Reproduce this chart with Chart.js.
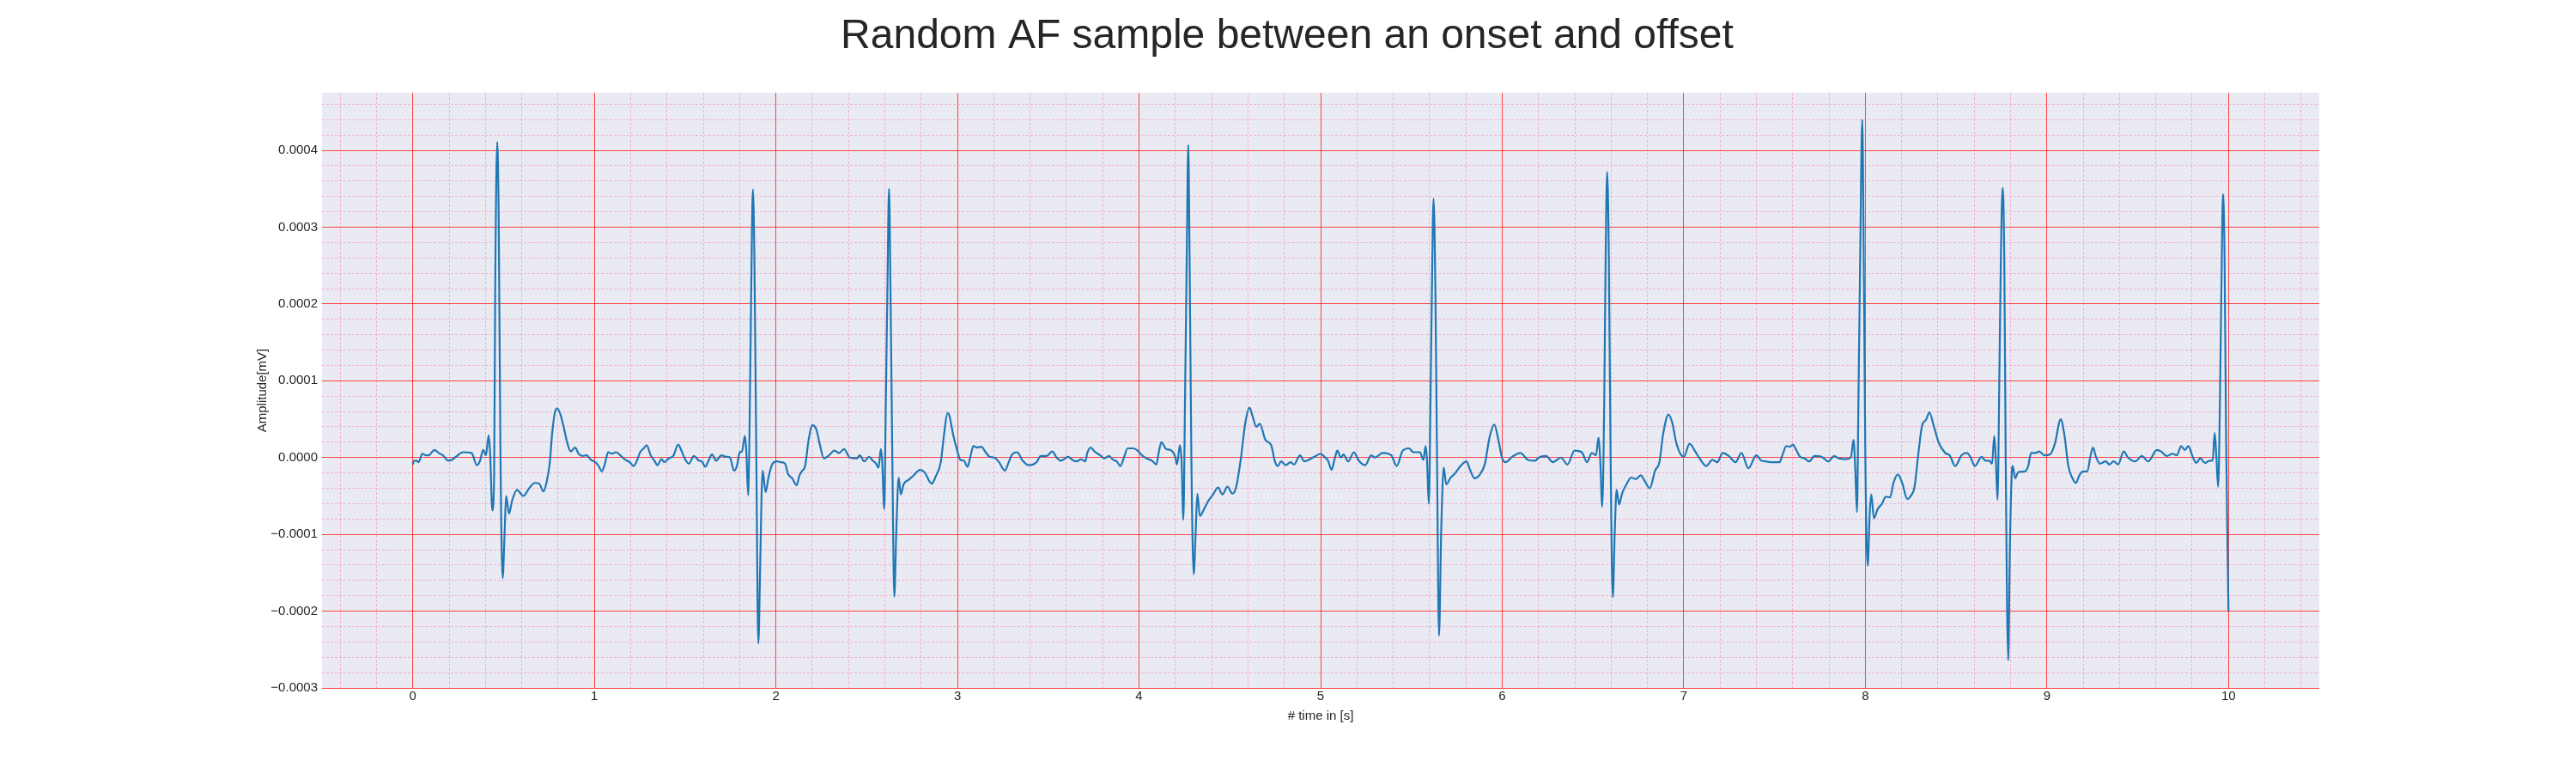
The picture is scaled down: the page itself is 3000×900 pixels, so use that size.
<!DOCTYPE html>
<html>
<head>
<meta charset="utf-8">
<title>Random AF sample between an onset and offset</title>
<script src="https://cdn.jsdelivr.net/npm/chart.js@4.4.1/dist/chart.umd.min.js"></script>
<style>
  html, body { margin: 0; padding: 0; background: #ffffff; }
  canvas { display: block; }
</style>
</head>
<body>
<canvas id="ecgChart" width="3000" height="900"></canvas>
<script>
// amplitudes below are in units of 1e-4 mV
const segATime = [0.000, 0.008, 0.020, 0.032, 0.052, 0.071, 0.088, 0.119, 0.142, 0.166, 0.195, 0.214, 0.237, 0.277, 0.324, 0.353, 0.369, 0.388, 0.403, 0.418, 0.426, 0.438, 0.448, 0.454, 0.465, 0.473, 0.483, 0.495, 0.506, 0.514, 0.530, 0.546, 0.574, 0.609, 0.641, 0.672, 0.696, 0.720, 0.736, 0.755, 0.767, 0.783, 0.796, 0.812, 0.831, 0.850, 0.870, 0.894, 0.913, 0.934, 0.957, 0.981, 1.005, 1.024, 1.041, 1.057, 1.076, 1.097, 1.119, 1.147, 1.171, 1.195];
const segAAmp = [-0.09, -0.04, -0.04, -0.06, 0.05, 0.03, 0.03, 0.10, 0.06, 0.03, -0.04, -0.03, 0.01, 0.07, 0.06, -0.10, -0.05, 0.10, 0.03, 0.29, 0.06, -0.69, -0.23, 2.19, 4.11, 3.16, 0.01, -1.57, -0.96, -0.50, -0.73, -0.57, -0.42, -0.50, -0.40, -0.33, -0.34, -0.44, -0.33, -0.06, 0.30, 0.59, 0.64, 0.57, 0.40, 0.20, 0.08, 0.13, 0.05, 0.02, 0.03, -0.03, -0.06, -0.11, -0.18, -0.09, 0.07, 0.05, 0.07, 0.02, -0.03, -0.06];

const segBTime = [1.215, 1.231, 1.252, 1.272, 1.288, 1.310, 1.331, 1.347, 1.370, 1.386, 1.410, 1.434, 1.462, 1.481, 1.502, 1.521, 1.548, 1.576, 1.592, 1.611, 1.627, 1.648, 1.671, 1.700, 1.726, 1.747, 1.769, 1.785, 1.801, 1.813, 1.829, 1.837, 1.847, 1.854, 1.864, 1.873, 1.881, 1.892, 1.903, 1.913, 1.921, 1.927, 1.943, 1.959, 1.979, 2.006, 2.027, 2.051, 2.066, 2.090, 2.114, 2.130, 2.146, 2.161, 2.180, 2.201, 2.222, 2.241, 2.264, 2.288, 2.323, 2.348, 2.375, 2.407, 2.446];
const segBAmp = [-0.11, -0.06, 0.07, 0.12, 0.16, 0.03, -0.04, -0.10, -0.02, -0.06, -0.01, 0.02, 0.17, 0.08, -0.03, -0.08, 0.02, -0.04, -0.05, -0.12, -0.05, 0.04, -0.04, 0.03, 0.01, 0.00, -0.17, -0.11, 0.07, 0.08, 0.28, 0.08, -0.49, 0.25, 2.19, 3.49, 2.68, 0.01, -2.42, -1.45, -0.48, -0.17, -0.45, -0.26, -0.09, -0.05, -0.06, -0.08, -0.21, -0.27, -0.36, -0.23, -0.17, -0.11, 0.23, 0.42, 0.37, 0.18, -0.01, 0.02, 0.09, 0.06, 0.11, 0.00, -0.01];

const segCTime = [2.462, 2.486, 2.513, 2.533, 2.549, 2.565, 2.578, 2.585, 2.597, 2.604, 2.614, 2.623, 2.631, 2.641, 2.652, 2.663, 2.676, 2.688, 2.703, 2.731, 2.755, 2.794, 2.818, 2.858, 2.881, 2.908, 2.926, 2.945, 2.956, 2.976, 3.000, 3.016, 3.035, 3.055, 3.071, 3.087, 3.108, 3.130, 3.155, 3.177, 3.203, 3.229, 3.261, 3.282, 3.301, 3.329, 3.356, 3.392, 3.435, 3.459, 3.491, 3.522, 3.546, 3.570, 3.609, 3.633, 3.657, 3.680, 3.704];
const segCAmp = [0.03, -0.05, 0.01, -0.04, -0.07, -0.13, 0.11, -0.04, -0.67, 0.49, 2.19, 3.50, 2.19, 0.01, -1.81, -0.96, -0.26, -0.48, -0.35, -0.29, -0.24, -0.16, -0.19, -0.34, -0.24, -0.06, 0.30, 0.58, 0.54, 0.30, 0.08, -0.03, -0.04, -0.12, 0.01, 0.15, 0.13, 0.14, 0.07, 0.01, 0.00, -0.06, -0.17, -0.06, 0.04, 0.07, -0.03, -0.10, -0.06, 0.02, 0.02, 0.08, 0.00, -0.04, 0.01, -0.03, -0.05, -0.02, -0.05];

const segDTime = [3.715, 3.734, 3.755, 3.786, 3.807, 3.834, 3.858, 3.877, 3.897, 3.918, 3.937, 3.968, 3.992, 4.016, 4.040, 4.071, 4.095, 4.108, 4.123, 4.150, 4.171, 4.198, 4.209, 4.225, 4.234, 4.244, 4.253, 4.263, 4.271, 4.278, 4.288, 4.301, 4.312, 4.321, 4.335, 4.356, 4.380, 4.408, 4.435, 4.459, 4.487, 4.514, 4.535, 4.562, 4.585, 4.609, 4.625, 4.646, 4.665, 4.696, 4.728, 4.747, 4.763, 4.783, 4.807, 4.835, 4.854, 4.886, 4.910, 4.949];
const segDAmp = [0.06, 0.13, 0.08, 0.03, -0.01, 0.02, -0.03, -0.05, -0.11, 0.01, 0.12, 0.12, 0.09, 0.03, -0.01, -0.04, -0.09, 0.06, 0.20, 0.11, 0.10, 0.02, -0.09, 0.16, -0.04, -0.81, 0.74, 2.68, 4.07, 2.68, 0.01, -1.52, -0.96, -0.47, -0.76, -0.68, -0.57, -0.48, -0.39, -0.48, -0.38, -0.47, -0.38, 0.01, 0.45, 0.65, 0.54, 0.40, 0.44, 0.23, 0.16, -0.04, -0.11, -0.05, -0.10, -0.06, -0.09, 0.03, -0.05, -0.01];

const segETime = [4.973, 5.000, 5.021, 5.041, 5.060, 5.076, 5.092, 5.111, 5.126, 5.152, 5.183, 5.210, 5.246, 5.278, 5.300, 5.341, 5.389, 5.419, 5.452, 5.487, 5.510, 5.547, 5.566, 5.578, 5.586, 5.596, 5.605, 5.613, 5.622, 5.632, 5.641, 5.652, 5.664, 5.678, 5.692, 5.716, 5.739, 5.771, 5.803, 5.823, 5.847, 5.874, 5.905, 5.929, 5.957, 5.979, 6.000, 6.019, 6.055, 6.100, 6.142, 6.182];
const segEAmp = [0.02, 0.05, 0.01, -0.04, -0.16, -0.03, 0.09, 0.00, 0.04, -0.05, 0.07, -0.04, -0.10, 0.03, 0.00, 0.06, 0.03, -0.11, 0.09, 0.12, 0.07, 0.07, -0.03, 0.15, -0.04, -0.60, 0.74, 2.19, 3.37, 2.19, 0.01, -2.32, -0.96, -0.13, -0.35, -0.26, -0.21, -0.11, -0.05, -0.16, -0.27, -0.23, -0.08, 0.25, 0.43, 0.23, -0.01, -0.06, 0.01, 0.06, -0.03, -0.04];

const segFTime = [6.201, 6.241, 6.280, 6.324, 6.359, 6.399, 6.438, 6.467, 6.494, 6.517, 6.530, 6.540, 6.551, 6.562, 6.570, 6.578, 6.587, 6.597, 6.609, 6.620, 6.630, 6.644, 6.660, 6.684, 6.710, 6.736, 6.763, 6.786, 6.813, 6.842, 6.866, 6.886, 6.916, 6.937, 6.960, 7.000, 7.032, 7.063, 7.087, 7.123, 7.158, 7.185, 7.214, 7.248, 7.285, 7.318, 7.356, 7.400, 7.427];
const segFAmp = [0.00, 0.02, -0.06, 0.00, -0.09, 0.09, 0.07, -0.06, 0.06, 0.03, 0.26, -0.04, -0.64, 0.74, 2.68, 3.72, 2.68, 0.01, -1.82, -0.96, -0.42, -0.61, -0.47, -0.35, -0.26, -0.28, -0.23, -0.31, -0.40, -0.17, -0.06, 0.30, 0.56, 0.45, 0.18, 0.01, 0.18, 0.08, -0.01, -0.11, -0.03, -0.06, 0.06, 0.02, -0.06, 0.06, -0.14, 0.03, -0.04];

const segGTime = [7.451, 7.486, 7.527, 7.543, 7.565, 7.585, 7.601, 7.617, 7.641, 7.665, 7.691, 7.720, 7.759, 7.796, 7.828, 7.854, 7.894, 7.921, 7.935, 7.945, 7.954, 7.962, 7.972, 7.983, 7.991, 8.000, 8.013, 8.024, 8.033, 8.047, 8.068, 8.092, 8.112, 8.136, 8.155, 8.179, 8.203, 8.231, 8.250, 8.271, 8.290, 8.313, 8.334, 8.353, 8.377, 8.405, 8.440, 8.464, 8.495, 8.530, 8.559, 8.578, 8.603, 8.641, 8.661, 8.682, 8.698];
const segGAmp = [-0.05, -0.06, -0.06, 0.03, 0.15, 0.14, 0.17, 0.11, 0.01, -0.01, -0.05, 0.02, 0.01, -0.05, 0.02, -0.01, -0.02, 0.01, 0.23, -0.18, -0.71, 0.74, 2.68, 4.40, 2.68, 0.01, -1.41, -0.73, -0.48, -0.79, -0.67, -0.60, -0.51, -0.52, -0.33, -0.22, -0.33, -0.54, -0.50, -0.38, 0.01, 0.42, 0.49, 0.59, 0.41, 0.19, 0.06, 0.03, -0.11, 0.03, 0.06, 0.01, -0.11, 0.01, -0.04, -0.04, -0.08];

const segHTime = [8.710, 8.719, 8.728, 8.739, 8.747, 8.756, 8.765, 8.773, 8.787, 8.796, 8.806, 8.812, 8.825, 8.842, 8.878, 8.897, 8.913, 8.938, 8.957, 8.986, 9.017, 9.044, 9.076, 9.096, 9.118, 9.139, 9.160, 9.179, 9.199, 9.223, 9.239, 9.254, 9.270, 9.292, 9.324, 9.344, 9.368, 9.392, 9.423, 9.447, 9.486, 9.523, 9.558, 9.606, 9.629, 9.660, 9.692, 9.716, 9.739, 9.760, 9.779, 9.803, 9.822, 9.845, 9.871, 9.897, 9.913, 9.924, 9.934, 9.943, 9.953, 9.961, 9.970, 9.978, 9.987, 9.995, 10.000];
const segHAmp = [0.28, -0.05, -0.55, 1.22, 2.68, 3.51, 2.68, 0.01, -2.64, -1.20, -0.23, -0.11, -0.27, -0.19, -0.18, -0.11, 0.06, 0.06, 0.08, 0.03, 0.04, 0.18, 0.50, 0.30, -0.11, -0.26, -0.33, -0.23, -0.18, -0.18, 0.01, 0.13, 0.01, -0.08, -0.05, -0.09, -0.05, -0.09, 0.08, 0.00, -0.05, 0.02, -0.05, 0.10, 0.08, 0.02, 0.05, 0.03, 0.15, 0.10, 0.15, 0.01, -0.07, -0.01, -0.07, -0.04, -0.04, 0.32, -0.02, -0.38, 0.74, 2.19, 3.43, 2.68, 0.25, -1.20, -2.00];

const AMP_UNIT = 1e-4; // mV per unit used above

// axis ticks
const xMajorValues = [0, 1, 2, 3, 4, 5, 6, 7, 8, 9, 10];
const xTickLabels = ['0', '1', '2', '3', '4', '5', '6', '7', '8', '9', '10'];
const yMajorValues = [-0.0003, -0.0002, -0.0001, 0, 0.0001, 0.0002, 0.0003, 0.0004];
const yTickLabels = ['\u22120.0003', '\u22120.0002', '\u22120.0001', '0.0000', '0.0001', '0.0002', '0.0003', '0.0004'];

const RED_GRID = 'rgba(255,0,0,0.7)';
const PINK_GRID = 'rgba(255,105,180,0.45)';
const TEXT = '#262626';
const FONT = "'Liberation Sans', Arial, sans-serif";

// minor grid every 0.2 s and every 0.00002 mV
const xGridValues = [];
for (let k = -2; k <= 52; k++) xGridValues.push(k / 5);
const yGridValues = [];
for (let i = -15; i <= 23; i++) yGridValues.push(i * 2e-5);

function majorIndex(list, v, eps) {
  return list.findIndex(m => Math.abs(m - v) < eps);
}

const segments = [
  [segATime, segAAmp], [segBTime, segBAmp], [segCTime, segCAmp], [segDTime, segDAmp],
  [segETime, segEAmp], [segFTime, segFAmp], [segGTime, segGAmp], [segHTime, segHAmp]
];
const points = [];
segments.forEach(([ts, vs]) => {
  ts.forEach((t, i) => points.push({ x: t, y: vs[i] * AMP_UNIT }));
});

const plotBackground = {
  id: 'plotBackground',
  beforeDraw(chart) {
    const { ctx, chartArea } = chart;
    ctx.save();
    ctx.fillStyle = '#EAEAF2';
    ctx.fillRect(chartArea.left, chartArea.top, chartArea.right - chartArea.left, chartArea.bottom - chartArea.top);
    ctx.restore();
  }
};

Chart.defaults.font.family = FONT;
Chart.defaults.color = TEXT;

new Chart(document.getElementById('ecgChart'), {
  type: 'line',
  data: {
    datasets: [{
      data: points,
      borderColor: '#1f77b4',
      borderWidth: 2.2,
      pointRadius: 0,
      fill: false,
      cubicInterpolationMode: 'monotone'
    }]
  },
  options: {
    responsive: false,
    devicePixelRatio: 1,
    animation: false,
    layout: { padding: { left: 297, right: 299, top: 0, bottom: 57 } },
    plugins: {
      legend: { display: false },
      tooltip: { enabled: false },
      title: {
        display: true,
        text: 'Random AF sample between an onset and offset',
        color: TEXT,
        font: { family: FONT, size: 48, weight: 'normal' },
        padding: { top: 14, bottom: 36.4 }
      }
    },
    scales: {
      x: {
        type: 'linear',
        min: -0.5,
        max: 10.5,
        afterFit(scale) { scale.height = 42; },
        afterBuildTicks(scale) { scale.ticks = xGridValues.map(v => ({ value: v })); },
        ticks: {
          autoSkip: false,
          maxRotation: 0,
          padding: 1,
          font: { size: 15 },
          color: TEXT,
          callback(value) {
            const k = majorIndex(xMajorValues, value, 1e-6);
            return k >= 0 ? xTickLabels[k] : '';
          }
        },
        grid: {
          drawTicks: false,
          lineWidth: 1,
          color: ctx => majorIndex(xMajorValues, ctx.tick.value, 1e-6) >= 0 ? RED_GRID : PINK_GRID
        },
        border: {
          display: false,
          dash: ctx => (ctx.tick && majorIndex(xMajorValues, ctx.tick.value, 1e-6) >= 0) ? [] : [3, 2]
        },
        title: {
          display: true,
          text: '# time in [s]',
          color: TEXT,
          font: { size: 15 },
          padding: { top: 0, bottom: 0 }
        }
      },
      y: {
        type: 'linear',
        min: -0.0003,
        max: 0.000475,
        afterFit(scale) { scale.width = 78; },
        afterBuildTicks(scale) { scale.ticks = yGridValues.map(v => ({ value: v })); },
        ticks: {
          autoSkip: false,
          padding: 5,
          font: { size: 15 },
          color: TEXT,
          callback(value) {
            const k = majorIndex(yMajorValues, value, 1e-9);
            return k >= 0 ? yTickLabels[k] : '';
          }
        },
        grid: {
          drawTicks: false,
          lineWidth: 1,
          color: ctx => majorIndex(yMajorValues, ctx.tick.value, 1e-9) >= 0 ? RED_GRID : PINK_GRID
        },
        border: {
          display: false,
          dash: ctx => (ctx.tick && majorIndex(yMajorValues, ctx.tick.value, 1e-9) >= 0) ? [] : [3, 2]
        },
        title: {
          display: true,
          text: 'Amplitude[mV]',
          color: TEXT,
          font: { size: 15 },
          padding: { top: 0, bottom: 0 }
        }
      }
    }
  },
  plugins: [plotBackground]
});
</script>
</body>
</html>
